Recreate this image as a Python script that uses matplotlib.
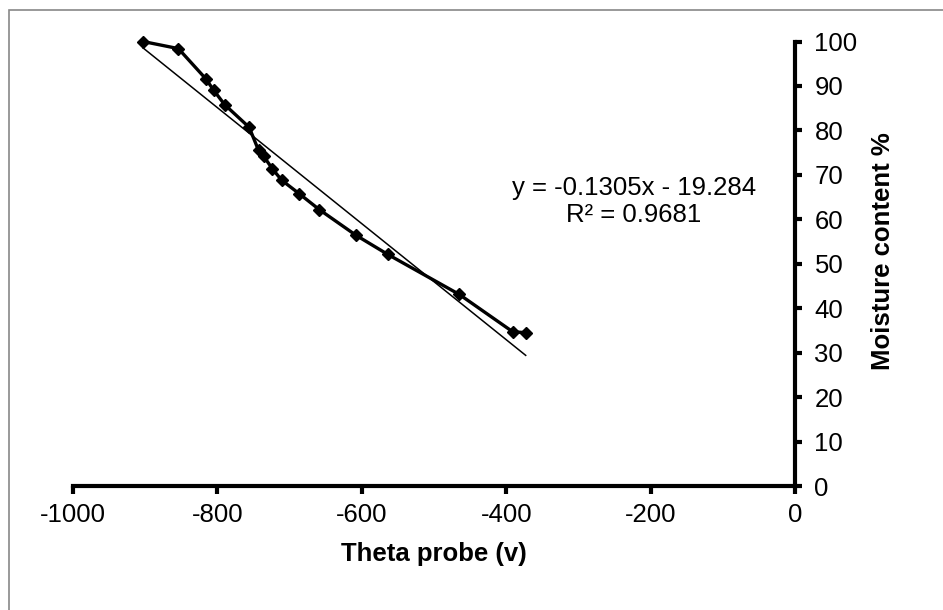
import numpy as np
import matplotlib
matplotlib.use('Agg')
import matplotlib.pyplot as plt
from matplotlib.patches import Rectangle

plt.rcParams['font.family'] = ['Liberation Sans', 'DejaVu Sans']
plt.rcParams['axes.unicode_minus'] = False

# theta probe reading vs moisture content
theta = [-903, -854, -816, -805, -790, -756, -743, -736, -724, -711,
         -687, -659, -608, -564, -465, -391, -373]
moisture = [100.0, 98.4, 91.6, 89.0, 85.8, 80.7, 75.5, 74.2, 71.4, 68.8,
            65.8, 62.2, 56.4, 52.1, 43.1, 34.7, 34.5]

# linear trendline from the chart label
slope = -0.1305
intercept = -19.284
r2 = 0.9681

x_ticks = [-1000, -800, -600, -400, -200, 0]
y_ticks = list(range(0, 101, 10))

FS = 18.5

fig = plt.figure(figsize=(9.43, 6.10), dpi=100)
fig.patch.set_facecolor('white')
ax = fig.add_axes([73 / 943, 124 / 610, 722 / 943, 444.5 / 610])

tx = np.array([min(theta), max(theta)])
ax.plot(tx, slope * tx + intercept, color='black', lw=1.1, zorder=2)
ax.plot(theta, moisture, color='black', lw=2.4, marker='D', ms=6.5,
        zorder=3, clip_on=False)

ax.set_xlim(-1000, 0)
ax.set_ylim(0, 100)

ax.spines['top'].set_visible(False)
ax.spines['left'].set_visible(False)
for s in ('bottom', 'right'):
    ax.spines[s].set_linewidth(3)
    ax.spines[s].set_color('black')

ax.set_xticks(x_ticks)
ax.set_yticks(y_ticks)
ax.yaxis.tick_right()
ax.yaxis.set_label_position('right')
ax.tick_params(axis='x', direction='out', length=6, width=3, labelsize=FS,
               pad=6)
ax.tick_params(axis='y', direction='out', length=5, width=3, labelsize=FS,
               pad=9)

ax.set_xlabel('Theta probe (v)', fontsize=FS, fontweight='bold',
              va='center', ha='center')
ax.xaxis.set_label_coords(0.5, (486 - 554) / 444.5)
ax.set_ylabel('Moisture content %', fontsize=FS, fontweight='bold',
              va='center', ha='center', rotation=90)
ax.yaxis.set_label_coords((883 - 73) / 722, (486 - 251) / 444.5)

# trendline label
fig.text(634 / 943, 1 - 188 / 610, f'y = {slope}x - {abs(intercept)}',
         fontsize=FS, ha='center', va='center')
fig.text(634 / 943, 1 - 215 / 610, f'R² = {r2}',
         fontsize=FS, ha='center', va='center')

# chart area border
fig.patches.append(Rectangle((9 / 943, -0.05), 1.1, 1 - 10 / 610 + 0.05,
                             transform=fig.transFigure, fill=False,
                             edgecolor='#888888', lw=1.2))

fig.savefig('out.png', dpi=100, facecolor='white')
